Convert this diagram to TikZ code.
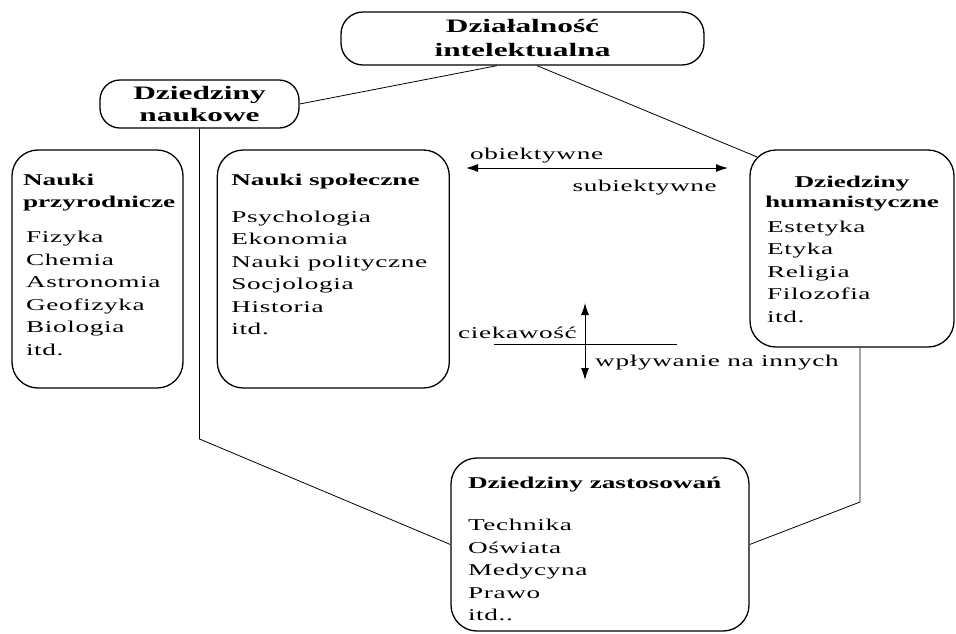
\documentclass[tikz,border=0pt]{standalone}
\usepackage{fontspec}
\setmainfont{Liberation Serif}[FakeStretch=1.65,LetterSpace=4,BoldFeatures={LetterSpace=0}]
\usepackage{tikz}
\usetikzlibrary{positioning,arrows.meta}
\newcommand\diagfont{\fontsize{16.5}{22.5}\selectfont}
\newcommand\titlefont{\fontsize{19}{24}\selectfont}
\tikzset{
    field-box/.style = {draw, line width=1.3pt, rounded corners=26pt, inner ysep=0pt, font=\diagfont},
    root-box/.style = {draw, line width=1.3pt, rounded corners=22pt, inner sep=0pt, align=center, font=\titlefont\bfseries},
    link/.style = {draw, line width=0.8pt},
    axis/.style = {line width=1pt, {Latex[length=12pt,width=8pt]}-{Latex[length=12pt,width=8pt]}},
    tag/.style = {inner sep=0pt, font=\diagfont},
}

\begin{document}
\begin{tikzpicture}[x=1pt, y=-1pt]
\useasboundingbox (0,0) rectangle (956,633);

\node[root-box, minimum width=363pt, minimum height=53pt] (root) at (522.5,38.5) {Działalność\\intelektualna};
\node[root-box, rounded corners=20pt, minimum width=199pt, minimum height=48pt] (nauk) at (199.5,104) {Dziedziny\\[-1.5pt]naukowe};

\node[field-box, inner xsep=5pt] (przyr) at (97.5,269) {\begin{minipage}[c][238pt][t]{161pt}
    \vspace*{24pt}\leftskip=6pt
    \textbf{Nauki}\\
    \textbf{przyrodnicze}\par
    \vspace{12.5pt}\leftskip=9pt
    Fizyka\\ Chemia\\ Astronomia\\ Geofizyka\\ Biologia\\ itd.
\end{minipage}};
\node[field-box, inner xsep=14pt, right=33pt of przyr] (spol) {\begin{minipage}[c][238pt][t]{204pt}
    \vspace*{24pt}
    \textbf{Nauki społeczne}\par
    \vspace{14.5pt}
    Psychologia\\ Ekonomia\\ Nauki polityczne\\ Socjologia\\ Historia\\ itd.
\end{minipage}};
\node[field-box, inner xsep=12pt] (hum) at (852,248.5) {\begin{minipage}[c][197pt][t]{180pt}
    \vspace*{26pt}
    {\centering\bfseries Dziedziny\\[-2.5pt] humanistyczne\par}
    \vspace{2.2pt}\leftskip=5pt
    Estetyka\\ Etyka\\ Religia\\ Filozofia\\ itd.
\end{minipage}};
\node[field-box, inner xsep=17pt] (zast) at (600,544.5) {\begin{minipage}[c][173pt][t]{264pt}
    \vspace*{19.5pt}
    \textbf{Dziedziny zastosowań}\par
    \vspace{19.3pt}
    Technika\\ Oświata\\ Medycyna\\ Prawo\\ itd..
\end{minipage}};

\draw[link] (nauk.east) -- ([xshift=-25.5pt]root.south);
\draw[link] ([xshift=14.5pt]root.south) -- ([xshift=7.5pt,yshift=-7.5pt]hum.north west);

\coordinate (nauk-knee) at (nauk.south |- 0,439);
\draw[link] (nauk.south) -- (nauk-knee) -- (zast.west);
\coordinate (hum-foot) at ([xshift=8pt]hum.south);
\coordinate (hum-knee) at (hum-foot |- 0,502);
\draw[link] (hum-foot) -- (hum-knee) -- (zast.east);

\coordinate (obj-end) at (466,168);
\coordinate (subj-end) at (728,168);
\draw[axis] (obj-end) -- (subj-end);
\node[tag, anchor=base west] (obj-txt) at ([xshift=4pt,yshift=9pt]obj-end) {obiektywne};
\node[tag, anchor=base east] (subj-txt) at ([xshift=-11pt,yshift=-23pt]subj-end) {subiektywne};

\coordinate (cur-end) at (585,303);
\coordinate (infl-end) at (585,380);
\draw[axis] (cur-end) -- (infl-end);
\coordinate (mid-l) at (494,344);
\coordinate (mid-r) at (677,344);
\draw[link] (mid-l) -- (mid-r);
\node[tag, anchor=base east] (cur-txt) at (577,338) {ciekawość};
\node[tag, anchor=base west] (infl-txt) at (595,366) {wpływanie na innych};
\end{tikzpicture}
\end{document}
